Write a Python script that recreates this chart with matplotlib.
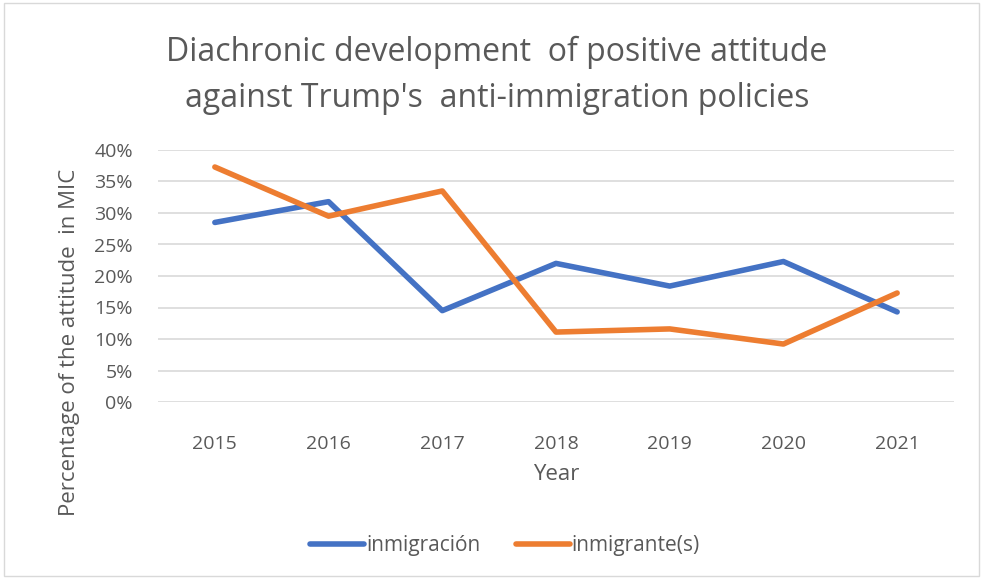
import matplotlib.pyplot as plt
from matplotlib.patches import Rectangle
from matplotlib.ticker import PercentFormatter

years = ["2015", "2016", "2017", "2018", "2019", "2020", "2021"]
inmigracion = [28.5, 31.8, 14.5, 22.0, 18.4, 22.3, 14.3]
inmigrantes = [37.3, 29.5, 33.5, 11.1, 11.6, 9.2, 17.3]

plt.rcParams['font.family'] = ['Open Sans', 'DejaVu Sans']
gray = "#595959"

fig = plt.figure(figsize=(9.9, 5.78), dpi=100)
ax = fig.add_axes([158 / 990, 1 - 402 / 578, 796 / 990, 252 / 578])

x = range(len(years))
ax.plot(x, inmigracion, color="#4472c4", lw=4, solid_capstyle="round", label="inmigración")
ax.plot(x, inmigrantes, color="#ed7d31", lw=4, solid_capstyle="round", label="inmigrante(s)")

ax.set_xlim(-0.5, len(years) - 0.5)
ax.set_ylim(0, 40)
ax.set_yticks(range(0, 41, 5))
ax.yaxis.set_major_formatter(PercentFormatter(decimals=0))
ax.set_xticks(list(x))
ax.set_xticklabels(years)
ax.grid(axis="y", color="#d9d9d9", lw=1.2)
ax.set_axisbelow(True)
for s in ax.spines.values():
    s.set_visible(False)
ax.tick_params(length=0, labelsize=14, colors=gray, pad=18)
ax.tick_params(axis="x", pad=24)

ax.set_xlabel("Year", fontsize=16, color=gray, labelpad=8)
ax.set_ylabel("Percentage of the attitude  in MIC", fontsize=16, color=gray)
ax.yaxis.set_label_coords(-0.098, 0.235)

fig.text(0.502, 0.909, "Diachronic development  of positive attitude",
         ha="center", va="center", fontsize=23, color=gray)
fig.text(0.502, 0.829, "against Trump's  anti-immigration policies",
         ha="center", va="center", fontsize=23, color=gray)

fig.legend(loc="center", bbox_to_anchor=(0.51, 0.056), ncol=2, frameon=False,
           fontsize=15, labelcolor=gray, handlelength=2.6, handletextpad=0.1,
           columnspacing=1.7)

fig.patches.append(Rectangle((0.004, 0.004), 0.985, 0.99, transform=fig.transFigure,
                             fill=False, edgecolor="#d9d9d9", lw=1))

fig.savefig("out.png", dpi=100, facecolor="white")
